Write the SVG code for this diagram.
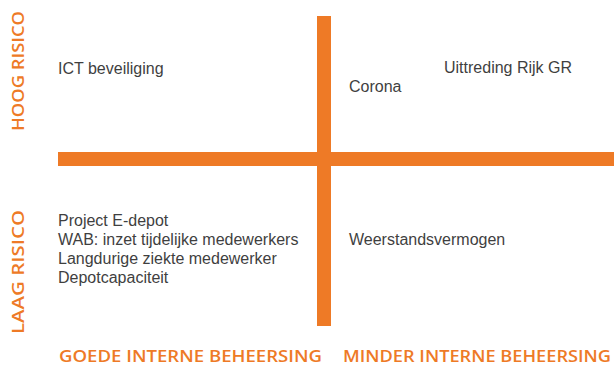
<svg xmlns="http://www.w3.org/2000/svg" width="614" height="365" viewBox="0 0 614 365">
<style>
.bar{fill:#EE7A26}
.t{font-family:"Liberation Sans",Arial,sans-serif;font-size:16px;fill:#3f3f3f}
.ax{font-family:"Open Sans","Liberation Sans",Arial,sans-serif;font-size:16px;font-weight:600;fill:#EE7A26}
.axb{font-size:15.5px}
</style>
<rect width="614" height="365" fill="#fff"/>
<g id="axes">
<rect class="bar" x="317" y="16" width="14" height="310"/>
<rect class="bar" x="58" y="152" width="556" height="14"/>
</g>
<g id="labels">
<text class="ax" transform="translate(24,131) rotate(-90)" textLength="120" lengthAdjust="spacingAndGlyphs">HOOG RISICO</text>
<text class="ax" transform="translate(24,334) rotate(-90)" textLength="124" lengthAdjust="spacingAndGlyphs">LAAG RISICO</text>
<text class="ax axb" x="59" y="361.5" textLength="263" lengthAdjust="spacingAndGlyphs">GOEDE INTERNE BEHEERSING</text>
<text class="ax axb" x="343" y="361.5" textLength="268" lengthAdjust="spacingAndGlyphs">MINDER INTERNE BEHEERSING</text>
</g>
<g id="q-top-left"><text class="t" x="58" y="74">ICT beveiliging</text></g>
<g id="q-top-right">
<text class="t" x="444" y="73">Uittreding Rijk GR</text>
<text class="t" x="349" y="92">Corona</text>
</g>
<g id="q-bottom-left">
<text class="t" x="58" y="226">Project E-depot</text>
<text class="t" x="58" y="245">WAB: inzet tijdelijke medewerkers</text>
<text class="t" x="58" y="264">Langdurige ziekte medewerker</text>
<text class="t" x="58" y="283">Depotcapaciteit</text>
</g>
<g id="q-bottom-right"><text class="t" x="349" y="245">Weerstandsvermogen</text></g>
</svg>
